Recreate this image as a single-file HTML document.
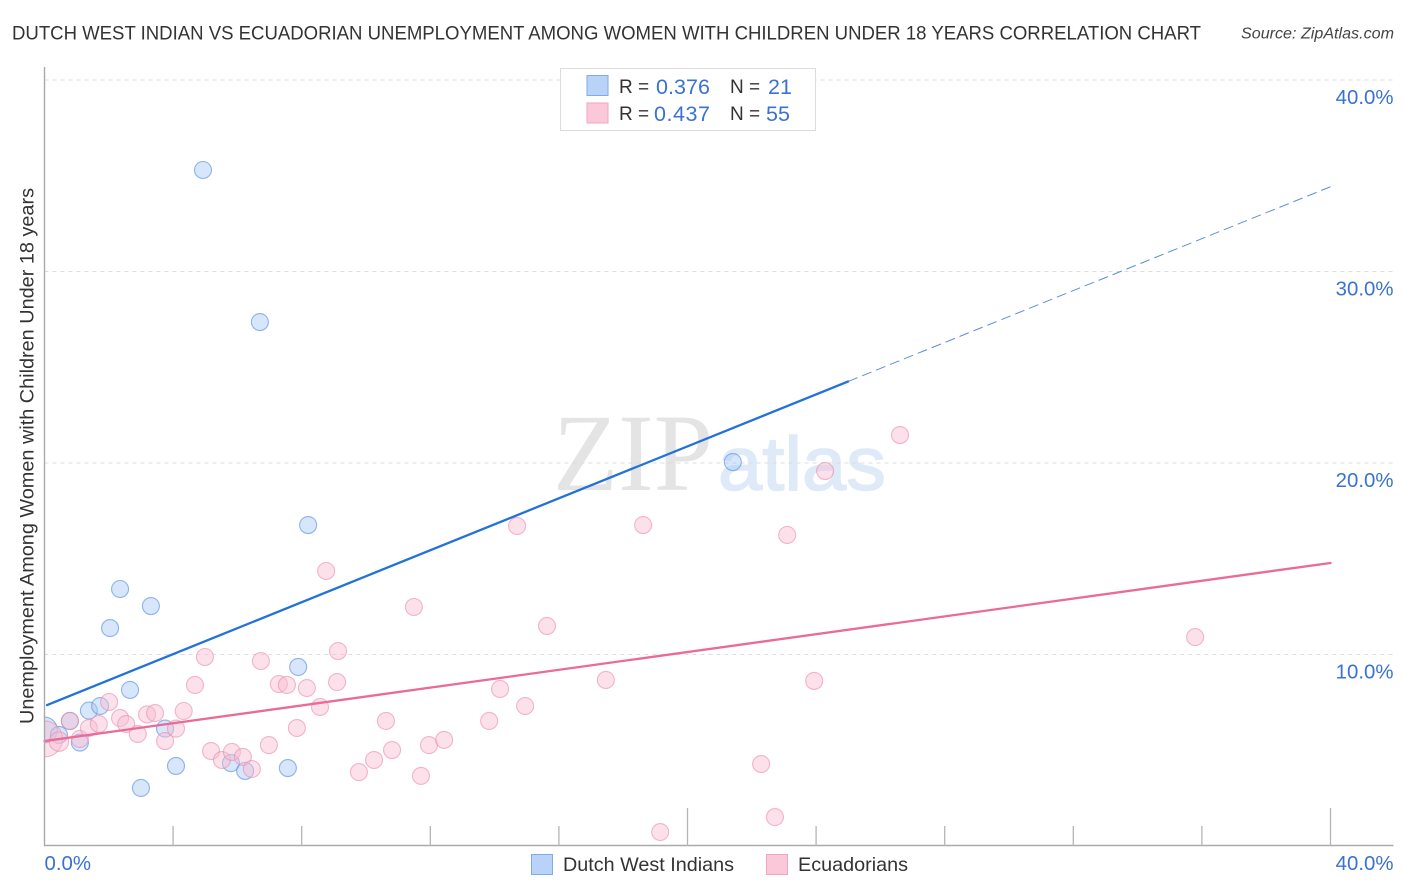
<!DOCTYPE html>
<html lang="en">
<head>
<meta charset="utf-8">
<title>Dutch West Indian vs Ecuadorian Unemployment Correlation Chart</title>
<style>
html,body{margin:0;padding:0;background:#fff;}
svg{display:block;font-family:"Liberation Sans",sans-serif;}
</style>
</head>
<body>
<svg id="chart" xmlns="http://www.w3.org/2000/svg" width="1406" height="892" viewBox="0 0 1406 892">
  <defs>
    <clipPath id="plot-clip"><rect x="44.5" y="60" width="1350" height="786"/></clipPath>
  </defs>
  <rect width="1406" height="892" fill="#ffffff"/>
  <text x="12" y="39.5" font-size="19" fill="#333" textLength="1189" lengthAdjust="spacingAndGlyphs">DUTCH WEST INDIAN VS ECUADORIAN UNEMPLOYMENT AMONG WOMEN WITH CHILDREN UNDER 18 YEARS CORRELATION CHART</text>
  <text x="1241" y="38.5" font-size="15.5" font-style="italic" fill="#444" textLength="153" lengthAdjust="spacingAndGlyphs">Source: ZipAtlas.com</text>
  <text x="553" y="490" font-family="'Liberation Serif',serif" font-size="110" fill="#e4e4e4" textLength="160" lengthAdjust="spacingAndGlyphs">ZIP</text>
  <text x="718" y="490" font-family="'Liberation Sans',sans-serif" font-size="76" fill="#dfeaf9" stroke="#dfeaf9" stroke-width="1.5" textLength="168" lengthAdjust="spacingAndGlyphs">atlas</text>
  <g id="grid"></g>
  <g id="blue-points" clip-path="url(#plot-clip)"></g>
  <g id="pink-points" clip-path="url(#plot-clip)"></g>
  <g id="trends"></g>
  <g id="axes"></g>
  <text transform="translate(33.5,724) rotate(-90)" font-size="19" fill="#333" textLength="536" lengthAdjust="spacingAndGlyphs">Unemployment Among Women with Children Under 18 years</text>

  <g>
    <rect x="560.5" y="68.5" width="255" height="62" fill="#fff" fill-opacity="0.9" stroke="#dcdcdc"/>
    <rect x="587" y="75.5" width="21" height="20" fill="#b8d3f7" stroke="#7fabe6"/>
    <rect x="587" y="103" width="21" height="20" fill="#fbc8d9" stroke="#f0a5bf"/>
    <text x="619" y="93" font-size="19" fill="#333">R =</text>
    <text x="656" y="94" font-size="21.5" fill="#3a72d2" textLength="54">0.376</text>
    <text x="730" y="93" font-size="19" fill="#333">N =</text>
    <text x="768" y="94" font-size="21.5" fill="#3a72d2">21</text>
    <text x="619" y="120" font-size="19" fill="#333">R =</text>
    <text x="654" y="121" font-size="21.5" fill="#3a72d2" textLength="56">0.437</text>
    <text x="730" y="120" font-size="19" fill="#333">N =</text>
    <text x="766" y="121" font-size="21.5" fill="#3a72d2">55</text>
  </g>

  <g>
    <rect x="531.5" y="854.5" width="21" height="20" fill="#b8d3f7" stroke="#7fabe6"/>
    <text x="563" y="871" font-size="19.5" fill="#333" textLength="171" lengthAdjust="spacingAndGlyphs">Dutch West Indians</text>
    <rect x="766.5" y="854.5" width="21" height="20" fill="#fbc8d9" stroke="#f0a5bf"/>
    <text x="798" y="871" font-size="19.5" fill="#333" textLength="110" lengthAdjust="spacingAndGlyphs">Ecuadorians</text>
  </g>
</svg>
<script>
const yTickValues = [10, 20, 30, 40];
const yTickLabels = ['10.0%', '20.0%', '30.0%', '40.0%'];
const xTickValues = [4, 8, 12, 16, 20, 24, 28, 32, 36, 40];
const xMajorTickValues = [20, 40];
const xEndValues = [0, 40];
const xEndLabels = ['0.0%', '40.0%'];

const blueX = [0, 0.45, 0.79, 1.10, 1.38, 1.73, 2.04, 2.35, 2.66, 3.00, 3.31, 3.75, 4.09, 4.93, 5.80, 6.24, 6.70, 7.57, 7.89, 8.20, 21.41];
const blueY = [6.06, 5.80, 6.53, 5.40, 7.07, 7.31, 11.38, 13.42, 8.15, 3.03, 12.53, 6.13, 4.18, 35.30, 4.33, 3.92, 27.36, 4.07, 9.35, 16.76, 20.05];
const blueWeight = [2.3, 1, 1, 1, 1, 1, 1, 1, 1, 1, 1, 1, 1, 1, 1, 1, 1, 1, 1, 1, 1];

const pinkX = [0, 0.45, 0.79, 1.10, 1.38, 1.69, 2.01, 2.35, 2.54, 2.90, 3.19, 3.44, 3.75, 4.09, 4.33, 4.68, 4.99, 5.18, 5.52, 5.83, 6.17, 6.45, 6.73, 6.98, 7.29, 7.54, 7.85, 8.16, 8.57, 8.76, 9.10, 9.13, 9.78, 10.25, 10.62, 10.81, 11.49, 11.71, 11.96, 12.43, 13.83, 14.17, 14.70, 14.95, 15.63, 17.46, 18.62, 19.15, 22.29, 22.72, 23.10, 23.94, 24.28, 26.61, 35.79];
const pinkY = [5.59, 5.45, 6.53, 5.59, 6.16, 6.37, 7.52, 6.68, 6.37, 5.85, 6.87, 6.94, 5.48, 6.13, 7.05, 8.41, 9.87, 4.96, 4.49, 4.91, 4.65, 4.02, 9.66, 5.27, 8.46, 8.41, 6.16, 8.25, 7.26, 14.36, 8.56, 10.18, 3.86, 4.49, 6.53, 5.01, 12.48, 3.66, 5.27, 5.54, 6.53, 8.20, 16.71, 7.31, 11.49, 8.67, 16.76, 0.73, 4.28, 1.51, 16.24, 8.62, 19.58, 21.46, 10.91];
const pinkWeight = [4.5, 1.3, 1, 1, 1, 1, 1, 1, 1, 1, 1, 1, 1, 1, 1, 1, 1, 1, 1, 1, 1, 1, 1, 1, 1, 1, 1, 1, 1, 1, 1, 1, 1, 1, 1, 1, 1, 1, 1, 1, 1, 1, 1, 1, 1, 1, 1, 1, 1, 1, 1, 1, 1, 1, 1];

const blueTrendSolidX = [0.08, 25.0];
const blueTrendSolidY = [7.36, 24.26];
const blueTrendDashX = [25.0, 40.05];
const blueTrendDashY = [24.26, 34.46];
const pinkTrendX = [0, 40];
const pinkTrendY = [5.48, 14.78];

const NS = 'http://www.w3.org/2000/svg';
function xScale(v) { return 44.5 + v * 32.15; }
function yScale(v) { return 846 - v * 19.15; }
function make(tag, attrs, parent) {
  const el = document.createElementNS(NS, tag);
  for (const k in attrs) el.setAttribute(k, attrs[k]);
  parent.appendChild(el);
  return el;
}

const grid = document.getElementById('grid');
const axes = document.getElementById('axes');
const trends = document.getElementById('trends');
const bluePoints = document.getElementById('blue-points');
const pinkPoints = document.getElementById('pink-points');

yTickValues.forEach(function (v, i) {
  const line = make('line', {x1: 44.5, x2: 1393, y1: yScale(v), y2: yScale(v), stroke: '#dcdcdc', 'stroke-width': 1, 'stroke-dasharray': '4 4'}, grid);
  
  
  const label = make('text', {x: 1393.5, y: yScale(v) + 24, 'text-anchor': 'end', 'font-size': 20.4, fill: '#3a72d2'}, axes);
  label.textContent = yTickLabels[i];
  
  
});

const yAxisLine = make('line', {x1: 44.5, x2: 44.5, y1: 67, y2: 846, stroke: '#aaaaaa', 'stroke-width': 1.4}, axes);


const xAxisLine = make('line', {x1: 44, x2: 1393.5, y1: 845.5, y2: 845.5, stroke: '#aaaaaa', 'stroke-width': 1.4}, axes);



xTickValues.forEach(function (v) {
  const top = xMajorTickValues.indexOf(v) >= 0 ? 808 : 826;
  const tick = make('line', {x1: xScale(v), x2: xScale(v), y1: top, y2: 846, stroke: '#b5b5b5', 'stroke-width': 1.3}, axes);
  
  
});

xEndValues.forEach(function (v, i) {
  const label = make('text', {x: i === 0 ? xScale(v) : xScale(v) + 63, y: 870, 'text-anchor': i === 0 ? 'start' : 'end', 'font-size': 20.4, fill: '#3a72d2'}, axes);
  label.textContent = xEndLabels[i];
  
  
});

blueX.forEach(function (v, i) {
  const dot = make('circle', {cx: xScale(v), cy: yScale(blueY[i]), r: 8.5 * Math.sqrt(blueWeight[i]), fill: '#a6c8f3', 'fill-opacity': 0.45, stroke: '#4f8ad9', 'stroke-opacity': 0.6, 'stroke-width': 1.1}, bluePoints);
  
  
});

pinkX.forEach(function (v, i) {
  const dot = make('circle', {cx: xScale(v), cy: yScale(pinkY[i]), r: 8.5 * Math.sqrt(pinkWeight[i]), fill: '#f8bcd0', 'fill-opacity': 0.45, stroke: '#e98aab', 'stroke-opacity': 0.6, 'stroke-width': 1.1}, pinkPoints);
  
  
});

const blueSolid = make('line', {x1: xScale(blueTrendSolidX[0]), y1: yScale(blueTrendSolidY[0]), x2: xScale(blueTrendSolidX[1]), y2: yScale(blueTrendSolidY[1]), stroke: '#2272d9', 'stroke-width': 2.3, 'stroke-linecap': 'round'}, trends);


const blueDash = make('line', {x1: xScale(blueTrendDashX[0]), y1: yScale(blueTrendDashY[0]), x2: xScale(blueTrendDashX[1]), y2: yScale(blueTrendDashY[1]), stroke: '#5a8fdc', 'stroke-width': 1, 'stroke-dasharray': '10 5'}, trends);


const pinkLine = make('line', {x1: xScale(pinkTrendX[0]), y1: yScale(pinkTrendY[0]), x2: xScale(pinkTrendX[1]), y2: yScale(pinkTrendY[1]), stroke: '#ea6a98', 'stroke-width': 2.3, 'stroke-linecap': 'round'}, trends);


</script>
</body>
</html>
